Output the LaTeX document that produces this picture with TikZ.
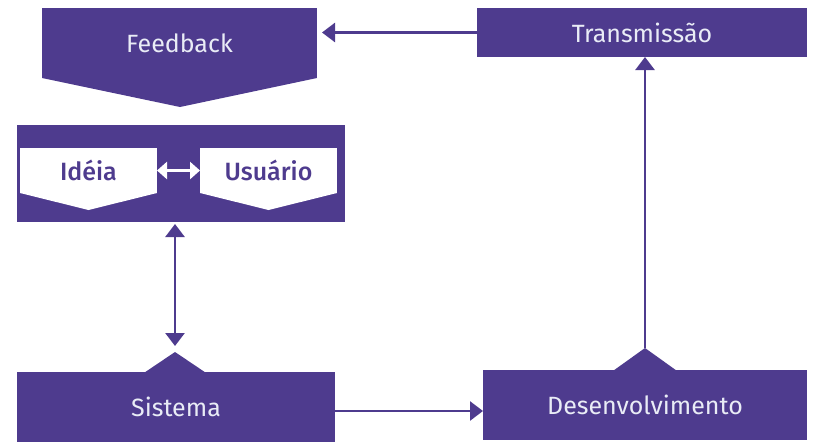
\documentclass[tikz,border=0pt]{standalone}
\usepackage{fontspec}
\setmainfont{Fira Sans}[BoldFont={Fira Sans Medium}]
\usetikzlibrary{arrows.meta}
\definecolor{pur}{HTML}{4E3B8E}
\definecolor{ltxt}{HTML}{E9ECF6}
\begin{document}
\begin{tikzpicture}[x=1pt,y=-1pt,
  box/.style={fill=pur,inner sep=0pt,outer sep=0pt,text=ltxt,font=\fontsize{25}{28}\selectfont},
  wbox/.style={fill=white,inner sep=0pt,outer sep=0pt,text=pur,font=\fontsize{25}{28}\selectfont\bfseries},
  tip/.tip={Triangle[length=13pt,width=19pt]},
  conn/.style={draw=pur,line width=2.6pt,-tip},
  dconn/.style={draw=pur,line width=2.6pt,tip-tip}]
\useasboundingbox (0,0) rectangle (813,442);
% Feedback
\node[box,minimum width=275pt,minimum height=70pt] (fb) at (179.5,43) {Feedback};
\coordinate (fbtip) at (180,107);
\fill[pur] (fb.south west) -- (fbtip) -- (fb.south east) -- cycle;
% Transmissao
\node[box,minimum width=330pt,minimum height=49pt] (tr) at (642,32.5) {Transmissão};
% middle box
\node[fill=pur,inner sep=0pt,outer sep=0pt,minimum width=328pt,minimum height=97pt] (mid) at (181,173.5) {};
\node[wbox,minimum width=137pt,minimum height=45pt] (id) at (88.5,170.5) {Idéia};
\fill[white] (id.south west) -- (88.5,210) -- (id.south east) -- cycle;
\node[wbox,minimum width=137pt,minimum height=45pt] (us) at (268.5,170.5) {Usuário};
\fill[white] (us.south west) -- (268.5,210) -- (us.south east) -- cycle;
\draw[draw=white,line width=2.6pt,{Triangle[length=10pt,width=17pt]}-{Triangle[length=10pt,width=17pt]}] (id.east) -- (us.west);
% Sistema
\node[box,minimum width=318pt,minimum height=70pt] (si) at (176,407) {Sistema};
\coordinate (sipk) at (175,352);
\fill[pur] (145,372.2) -- (sipk) -- (205,372.2) -- cycle;
% Desenvolvimento
\node[box,minimum width=324pt,minimum height=70pt] (de) at (645,405) {Desenvolvimento};
\coordinate (depk) at (645,348);
\fill[pur] (614,370.2) -- (depk) -- (676,370.2) -- cycle;
% connectors
\draw[conn,shorten >=5pt] (tr.west) -- (fb.east |- tr.west);
\draw[conn] (depk) -- (tr.south -| depk);
\draw[dconn,shorten <=6pt,shorten >=2pt] (sipk) -- (mid.south -| sipk);
\draw[conn] (si.east |- 0,411) -- (de.west |- 0,411);
\end{tikzpicture}
\end{document}
